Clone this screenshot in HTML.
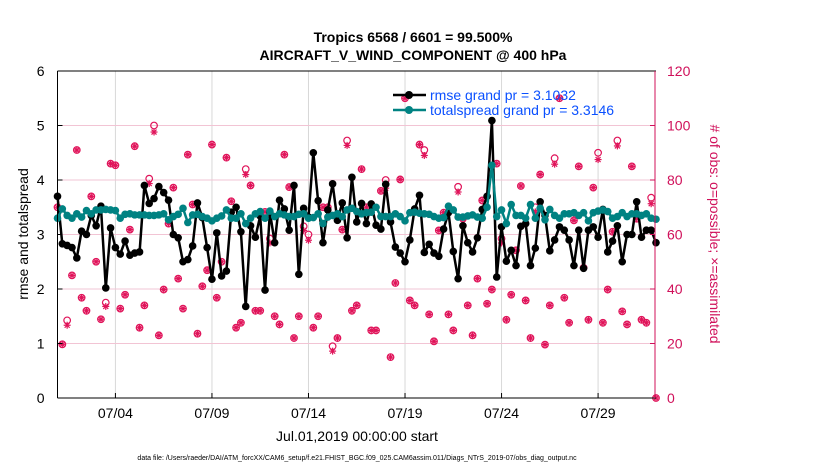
<!DOCTYPE html>
<html><head><meta charset="utf-8"><style>
body{margin:0;background:#fff;}
svg{font-family:"Liberation Sans",sans-serif;display:block;}
</style></head><body>
<svg id="chart" width="830" height="470" viewBox="0 0 830 470">
<rect width="830" height="470" fill="#fff"/>
<g id="grid"></g><g id="obs"></g><g id="lines"></g><g id="axes"></g>
<text x="413" y="42" text-anchor="middle" font-size="14" font-weight="bold">Tropics 6568 / 6601 = 99.500%</text>
<text x="413" y="60" text-anchor="middle" font-size="14" font-weight="bold">AIRCRAFT_V_WIND_COMPONENT @ 400 hPa</text>
<text x="357" y="441" text-anchor="middle" font-size="14">Jul.01,2019 00:00:00 start</text>
<text transform="translate(28,234) rotate(-90)" text-anchor="middle" font-size="14">rmse and totalspread</text>
<text transform="translate(710,234) rotate(90)" text-anchor="middle" font-size="14" fill="#d0105a"># of obs: o=possible; ×=assimilated</text>
<text x="357" y="460" text-anchor="middle" font-size="7">data file: /Users/raeder/DAI/ATM_forcXX/CAM6_setup/f.e21.FHIST_BGC.f09_025.CAM6assim.011/Diags_NTrS_2019-07/obs_diag_output.nc</text>
<g>
<line x1="393" y1="95" x2="426" y2="95" stroke="#000" stroke-width="2.5"/><circle cx="409" cy="95" r="4" fill="#000"/>
<text x="430" y="100" font-size="14" fill="#0a50ff">rmse grand pr = 3.1032</text>
<line x1="393" y1="110" x2="426" y2="110" stroke="#008282" stroke-width="2.5"/><circle cx="409" cy="110" r="4" fill="#008282"/>
<text x="430" y="115" font-size="14" fill="#0a50ff">totalspread grand pr = 3.3146</text>
</g>
</svg>
<script>
const xTickLabels=["07/04","07/09","07/14","07/19","07/24","07/29"];
const xTickDays=[3,8,13,18,23,28];
const yTicks=[0,1,2,3,4,5,6];
const rTicks=[0,20,40,60,80,100,120];
const rmse=[3.7,2.83,2.8,2.76,2.57,3.06,3.0,3.35,3.16,3.52,2.02,3.12,2.76,2.64,2.88,2.62,2.66,2.68,3.9,3.57,3.66,3.88,3.77,3.63,3.0,2.94,2.5,2.54,2.79,3.58,3.31,2.76,2.18,3.03,2.24,2.33,3.41,3.5,3.05,1.68,3.16,2.95,3.34,1.98,
3.41,2.85,3.63,3.47,3.08,3.9,2.27,3.48,3.32,4.5,3.62,2.85,3.45,3.93,3.26,3.58,2.94,4.05,3.23,3.57,3.2,3.56,3.17,3.1,3.92,3.23,2.77,2.66,2.5,2.9,3.47,3.72,2.67,2.82,2.66,2.6,3.1,3.4,2.69,2.19,
3.16,2.85,2.68,2.94,3.46,3.7,5.09,2.22,3.14,2.51,2.71,2.43,3.15,3.2,2.43,2.75,3.6,3.35,2.7,2.9,3.14,3.08,2.9,2.43,3.08,2.38,3.08,3.14,2.95,3.46,2.68,2.88,3.16,2.5,3.0,3.0,3.6,2.95,3.08,3.08,2.85];
const spread=[3.3,3.47,3.35,3.3,3.38,3.32,3.44,3.38,3.45,3.45,3.46,3.45,3.44,3.3,3.37,3.38,3.36,3.36,3.36,3.35,3.35,3.36,3.38,3.27,3.33,3.37,3.48,3.22,3.36,3.37,3.33,3.3,3.25,3.3,3.34,3.45,3.3,3.3,3.38,3.2,3.3,3.38,3.42,3.3,
3.43,3.33,3.38,3.36,3.33,3.33,3.37,3.38,3.3,3.31,3.38,3.2,3.32,3.35,3.38,3.33,3.45,3.48,3.42,3.38,3.4,3.41,3.5,3.33,3.33,3.33,3.38,3.33,3.25,3.4,3.41,3.39,3.38,3.37,3.33,3.3,3.31,3.52,3.45,3.32,
3.32,3.34,3.36,3.32,3.3,3.5,4.27,3.33,3.45,3.2,3.55,3.35,3.35,3.3,3.55,3.3,3.48,3.27,3.46,3.35,3.3,3.38,3.38,3.4,3.35,3.4,3.25,3.4,3.43,3.45,3.42,3.3,3.33,3.4,3.33,3.38,3.38,3.35,3.38,3.3,3.28];
const obsAssim=[70,19.7,26.7,45,91,36.8,32,74,50,28.9,33.6,86,85.4,32.8,37.9,61.8,92.4,25.8,34,78.7,97.6,23,39.8,64,77.2,43.8,32.8,89.3,71,23.6,41,46.9,93,36.8,50,88.2,72.2,25.8,27.6,82,78,32,32,
68.3,56.9,30,27,89.3,77.4,22,30,61.5,57.9,25.8,30,70,70,17.2,22,61.8,92.7,32,34,84,70,24.8,24.8,76,77,15,42.2,80.2,110,35.8,34,93,89,30.7,20.8,61.5,68,30.7,24.8,75.6,
65.8,34,23,43.8,72.5,34.6,39.8,86,56.9,28.7,37.9,54.2,77.8,35.8,22,68.3,82,19.6,34,85.8,110,36.8,27.6,65.2,85,47.8,28.7,77.2,87.5,27.6,39.8,61,92.5,31.8,27,85,65.8,28.7,27.6,71.3,0];
const obsPossible=[70,19.7,28.5,45,91,36.8,32,74,50,28.9,35,86,85.4,32.8,37.9,61.8,92.4,25.8,34,80.5,100,23,39.8,64,77.2,43.8,32.8,89.3,71,23.6,41,46.9,93,36.8,50,88.2,72.2,25.8,27.6,84,78,32,32,
68.3,58.5,30,27,89.3,77.4,22,30,63,60,25.8,30,70,70,19,22,61.8,94.5,32,34,84,70,24.8,24.8,76,80,15,42.2,80.2,110,35.8,34,93,91,30.7,20.8,61.5,68,30.7,24.8,77.5,
65.8,34,23,43.8,72.5,34.6,39.8,86,58.5,28.7,37.9,54.2,77.8,35.8,22,70,82,19.6,34,88,110,36.8,27.6,65.2,85,47.8,28.7,77.2,90,27.6,39.8,61,94.5,31.8,27,85,65.8,28.7,27.6,73.5,0];
const step=0.25;
const X0=57.5,X1=656,Y0=398,Y1=71,T1=31;
const x=t=>X0+(X1-X0)*t/T1;
const y=v=>Y0-(Y0-Y1)*v/6;
const yR=c=>Y0-(Y0-Y1)*c/120;
const NS="http://www.w3.org/2000/svg";
function mk(tag,parent,attrs){const e=document.createElementNS(NS,tag);for(const k in attrs)e.setAttribute(k,attrs[k]);parent.appendChild(e);return e;}
const grid=document.getElementById('grid'),axes=document.getElementById('axes'),obs=document.getElementById('obs'),lines=document.getElementById('lines');
xTickDays.forEach((d,i)=>{
 const g=mk('line',grid,{x1:x(d),x2:x(d),y1:Y1,y2:Y0,stroke:'#d8d8d8','stroke-width':1});
 
 
 mk('line',axes,{x1:x(d),x2:x(d),y1:Y0,y2:Y0-5,stroke:'#000'});
 const t=mk('text',axes,{x:x(d),y:Y0+20,'text-anchor':'middle','font-size':14});
 t.textContent=xTickLabels[i];
 
 
});
rTicks.forEach(c=>{
 if(c>0&&c<120){const g=mk('line',grid,{x1:X0,x2:X1-1,y1:yR(c),y2:yR(c),stroke:'#f2c4d4','stroke-width':1});
 
 }
 mk('line',axes,{x1:X1-1,x2:X1-6,y1:yR(c),y2:yR(c),stroke:'#d0105a'});
 const t=mk('text',axes,{x:X1+11,y:yR(c)+5,'font-size':14,fill:'#d0105a'});
 t.textContent=c;
 
 
});
yTicks.forEach(v=>{
 mk('line',axes,{x1:X0,x2:X0+5,y1:y(v),y2:y(v),stroke:'#000'});
 const t=mk('text',axes,{x:X0-13,y:y(v)+5,'text-anchor':'end','font-size':14});
 t.textContent=v;
 
 
});
mk('line',axes,{x1:X0,x2:X1,y1:Y1,y2:Y1,stroke:'#000'});
mk('line',axes,{x1:X0,x2:X1,y1:Y0,y2:Y0,stroke:'#000'});
mk('line',axes,{x1:X0,x2:X0,y1:Y1,y2:Y0,stroke:'#000'});
mk('line',axes,{x1:X1-1,x2:X1-1,y1:Y1,y2:Y0,stroke:'#d0105a'});
const mag='#e0145a';
obsPossible.forEach((c,i)=>{
 const cx=x(i*step);
 const o=mk('circle',obs,{cx:cx,cy:yR(c),r:3.3,fill:'none',stroke:mag,'stroke-width':1.2});
 
 
});
obsAssim.forEach((c,i)=>{
 const cx=x(i*step),cy=yR(c);
 const g=mk('g',obs,{stroke:mag,'stroke-width':1.2});
 
 
 mk('line',g,{x1:cx-3.5,x2:cx+3.5,y1:cy,y2:cy});
 mk('line',g,{x1:cx,x2:cx,y1:cy-3.5,y2:cy+3.5});
 mk('line',g,{x1:cx-2.5,x2:cx+2.5,y1:cy-2.5,y2:cy+2.5});
 mk('line',g,{x1:cx-2.5,x2:cx+2.5,y1:cy+2.5,y2:cy-2.5});
});
function series(vals,color,name){
 const pts=vals.map((v,i)=>x(i*step).toFixed(1)+','+y(v).toFixed(1)).join(' ');
 const p=mk('polyline',lines,{points:pts,fill:'none',stroke:color,'stroke-width':2.5,'stroke-linejoin':'round'});
 
 
 vals.forEach((v,i)=>{
  const c=mk('circle',lines,{cx:x(i*step),cy:y(v),r:3.8,fill:color});
  
  
 });
}
series(rmse,'#000','rmse');
series(spread,'#008282','totalspread');
</script>
</body></html>
